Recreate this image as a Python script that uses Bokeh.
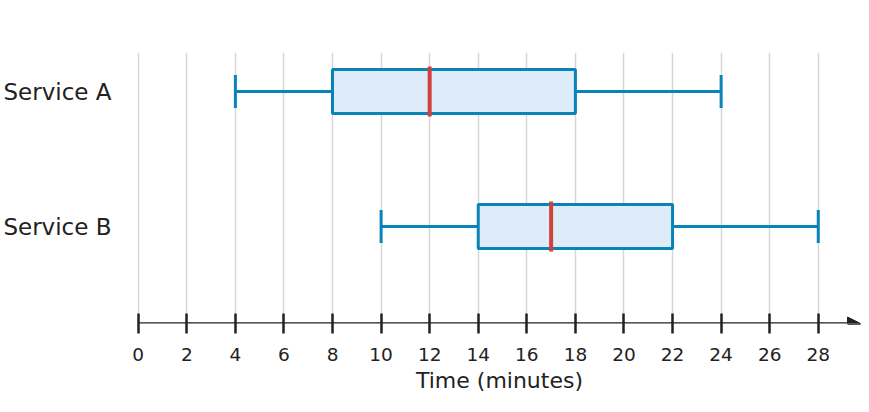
from bokeh.plotting import figure
from bokeh.models import Range1d, FixedTicker, Arrow, NormalHead, ColumnDataSource
from bokeh.embed import file_html
from bokeh.resources import INLINE

# ---- data ----
categories = ["Service A", "Service B"]
whisker_low = [4, 10]
q1 = [8, 14]
median = [12, 17]
q3 = [18, 22]
whisker_high = [24, 28]
x_ticks = [0, 2, 4, 6, 8, 10, 12, 14, 16, 18, 20, 22, 24, 26, 28]
grid_ticks = x_ticks + [30]
x_title = "Time (minutes)"

# ---- styles ----
BLUE = "#0A84B8"
FILL = "#DDECF8"
RED = "#D2403C"
GRID = "#D6D6D6"
INK = "#222222"
FONT = "DejaVu Sans"

pos = list(range(len(categories)))
box_half = 0.163
cap_half = 0.122
med_half = 0.185
y_bottom = 1.7185
y_top = -0.289
x_start = -0.03
x_end = 29.78
arrow_tip = 29.74

src = ColumnDataSource(dict(
    y=pos, lo=whisker_low, q1=q1, med=median, q3=q3, hi=whisker_high,
    top=[v - box_half for v in pos], bot=[v + box_half for v in pos],
    ctop=[v - cap_half for v in pos], cbot=[v + cap_half for v in pos],
    mtop=[v - med_half for v in pos], mbot=[v + med_half for v in pos],
))

p = figure(width=861, height=396, output_backend="svg", toolbar_location=None,
           x_range=Range1d(x_start, x_end), y_range=Range1d(y_bottom, y_top),
           min_border_left=137, min_border_right=0, min_border_top=52,
           min_border_bottom=73)
p.outline_line_color = None
p.background_fill_color = "white"
p.border_fill_color = "white"

# grid
p.ygrid.visible = False
p.xgrid.ticker = FixedTicker(ticks=grid_ticks)
p.xgrid.grid_line_color = GRID
p.xgrid.grid_line_width = 1.5

# x axis
xa = p.xaxis[0]
xa.ticker = FixedTicker(ticks=x_ticks)
xa.axis_line_alpha = 0
xa.major_tick_in = 10
xa.major_tick_out = 10
xa.major_tick_line_width = 2.5
xa.major_tick_line_color = INK
xa.minor_tick_line_color = None
xa.major_label_text_font = FONT
xa.major_label_text_font_size = "18.5px"
xa.major_label_text_color = INK
xa.major_label_standoff = 14
xa.axis_label = x_title
xa.axis_label_text_font = FONT
xa.axis_label_text_font_size = "22px"
xa.axis_label_text_font_style = "normal"
xa.axis_label_text_color = INK
xa.axis_label_standoff = 4

# y axis
ya = p.yaxis[0]
ya.ticker = FixedTicker(ticks=pos)
ya.major_label_overrides = {i: c for i, c in zip(pos, categories)}
ya.axis_line_alpha = 0
ya.major_tick_line_color = None
ya.minor_tick_line_color = None
ya.major_tick_in = 0
ya.major_tick_out = 0
ya.major_label_text_font = FONT
ya.major_label_text_font_size = "23px"
ya.major_label_text_color = INK
ya.major_label_standoff = 26

# axis line with arrow
p.add_layout(Arrow(end=NormalHead(size=13, fill_color=INK, line_color=INK, line_width=1),
                   x_start=0, y_start=y_bottom, x_end=arrow_tip, y_end=y_bottom,
                   line_color=INK, line_width=2.5))

# whiskers
p.segment(x0="lo", y0="y", x1="q1", y1="y", source=src, line_color=BLUE, line_width=3)
p.segment(x0="q3", y0="y", x1="hi", y1="y", source=src, line_color=BLUE, line_width=3)
p.segment(x0="lo", y0="ctop", x1="lo", y1="cbot", source=src, line_color=BLUE, line_width=3)
p.segment(x0="hi", y0="ctop", x1="hi", y1="cbot", source=src, line_color=BLUE, line_width=3)

# boxes
p.quad(left="q1", right="q3", top="top", bottom="bot", source=src,
       fill_color=FILL, line_color=BLUE, line_width=3)

# medians
p.segment(x0="med", y0="mtop", x1="med", y1="mbot", source=src, line_color=RED, line_width=4)

open("out.html", "w").write(file_html(p, INLINE))
